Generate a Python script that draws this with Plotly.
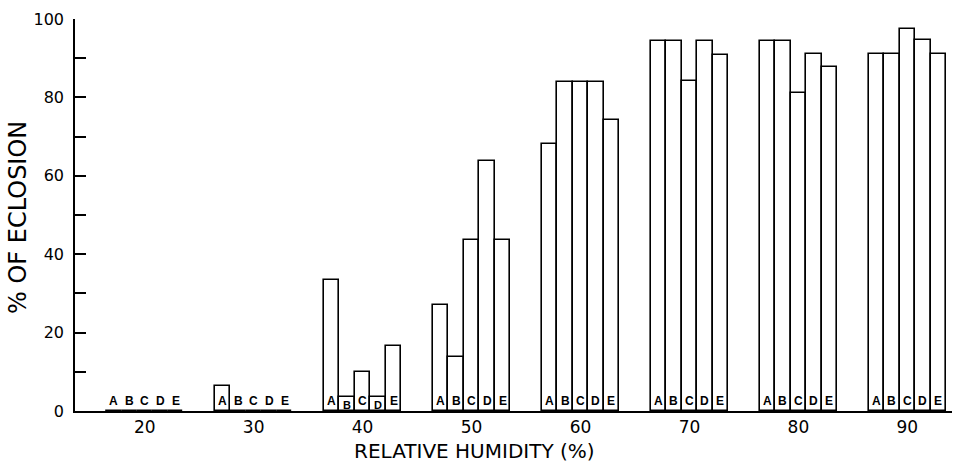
import plotly.graph_objects as go

# Data
humidity = [20, 30, 40, 50, 60, 70, 80, 90]
series = ["A", "B", "C", "D", "E"]
values = {
    "A": [0, 6.5, 33.5, 27.1, 68.1, 94.5, 94.5, 91.1],
    "B": [0, 0, 3.7, 13.7, 83.9, 94.5, 94.5, 91.1],
    "C": [0, 0, 9.9, 43.7, 83.9, 84.3, 81.1, 97.5],
    "D": [0, 0, 3.7, 63.9, 83.9, 94.3, 91.0, 94.6],
    "E": [0, 0, 16.7, 43.7, 74.3, 90.9, 87.7, 91.1],
}
y_tick_vals = [0, 10, 20, 30, 40, 50, 60, 70, 80, 90, 100]
y_tick_text = ["0", "", "20", "", "40", "", "60", "", "80", "", "100"]
x_tick_text = ["20", "30", "40", "50", "60", "70", "80", "90"]
x_title = "RELATIVE HUMIDITY (%)"
y_title = "% OF ECLOSION"

BAR_W = 1.42
FONT = "DejaVu Sans"

fig = go.Figure()
annotations = []
for i, s in enumerate(series):
    xs = [h + (i - 2) * BAR_W for h in humidity]
    ys = values[s]
    fig.add_trace(go.Bar(
        x=xs, y=ys, width=BAR_W, name=s,
        marker=dict(color="white", line=dict(color="black", width=1.6)),
        showlegend=False, hoverinfo="x+y",
    ))
    for x, v in zip(xs, ys):
        if 0 < v < 5:
            ly, fs = v / 2.0 - 0.2, 11
        else:
            ly, fs = 2.6, 12
        annotations.append(dict(
            x=x, y=ly, xref="x", yref="y", text=s, showarrow=False,
            font=dict(family="Liberation Sans", size=fs, color="black", weight="bold"),
            xanchor="center", yanchor="middle",
        ))

# axis titles as annotations for precise placement
annotations.append(dict(
    x=0.456, y=-0.101, xref="paper", yref="paper", text=x_title, showarrow=False,
    font=dict(family=FONT, size=20, color="black"), xanchor="center", yanchor="middle",
))
annotations.append(dict(
    x=-0.065, y=0.495, xref="paper", yref="paper", text=y_title, showarrow=False,
    textangle=-90, font=dict(family=FONT, size=24, color="black"),
    xanchor="center", yanchor="middle",
))

fig.update_layout(
    width=958, height=467,
    margin=dict(l=75, r=6, t=19, b=56, autoexpand=False),
    paper_bgcolor="white", plot_bgcolor="white",
    barmode="overlay", bargap=0,
    font=dict(family=FONT, color="black", size=16),
    annotations=annotations,
    xaxis=dict(
        range=[13.6, 94.1], showgrid=False, zeroline=False, automargin=False,
        showline=True, linecolor="black", linewidth=1.6,
        tickmode="array", tickvals=humidity, ticktext=x_tick_text,
        ticks="", tickfont=dict(size=17, family=FONT), ticklabelstandoff=0,
    ),
    yaxis=dict(
        range=[0, 100], showgrid=False, zeroline=False, automargin=False,
        showline=True, linecolor="black", linewidth=1.6,
        tickmode="array", tickvals=y_tick_vals, ticktext=y_tick_text,
        ticks="inside", ticklen=11, tickwidth=1.5, tickcolor="black",
        tickfont=dict(size=16, family=FONT), ticklabelstandoff=6,
    ),
)

fig.write_html(
    "out.html",
    config={"displayModeBar": False},
    post_script="document.body.style.margin='0';document.body.style.overflow='hidden';",
)
